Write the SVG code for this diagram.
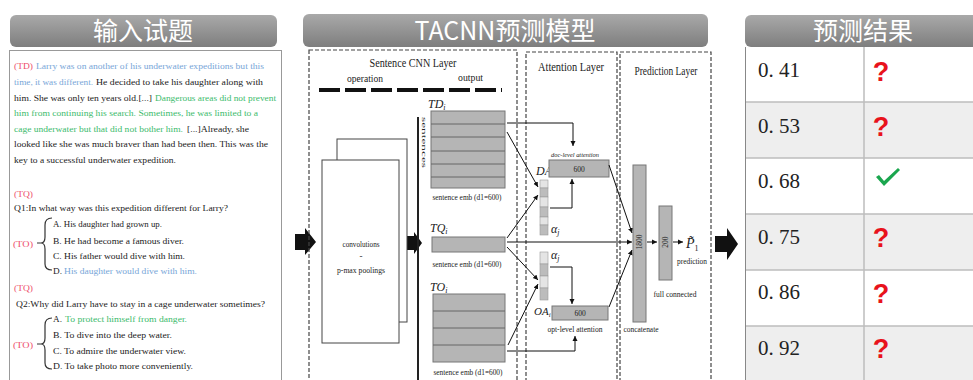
<svg xmlns="http://www.w3.org/2000/svg" width="973" height="380" viewBox="0 0 973 380">
<defs>
<linearGradient id="hdr" x1="0" y1="0" x2="0" y2="1">
<stop offset="0" stop-color="#a9a9a9"/>
<stop offset="1" stop-color="#7e7e7e"/>
</linearGradient>
<marker id="ah" markerWidth="6" markerHeight="6" refX="5" refY="3" orient="auto" markerUnits="userSpaceOnUse">
<path d="M0,0.5 L5,3 L0,5.5 Z" fill="#111"/>
</marker>
<style>
.hdrbar{fill:url(#hdr)}
.hdrtxt{font-family:"Noto Sans CJK SC","Noto Sans",sans-serif;font-size:25px;fill:#fff;text-anchor:middle}
.p{font-family:"Liberation Serif",serif;font-size:9.2px;fill:#222}
.red{fill:#ee4d6a}
.blue{fill:#78a6d8}
.green{fill:#3cbb6c}
.s{font-family:"Liberation Serif",serif;fill:#222}
.it{font-style:italic}
.dash{fill:none;stroke:#444;stroke-width:1.2;stroke-dasharray:4 2}
.emb{fill:#b5b5b5;stroke:#777;stroke-width:1}
.row{stroke:#666;stroke-width:1}
.conn{fill:none;stroke:#111;stroke-width:1;marker-end:url(#ah)}
.blk{fill:#111}
.val{font-family:"Liberation Serif",serif;font-size:21px;fill:#222}
.q{font-family:"Liberation Sans",sans-serif;font-weight:bold;font-size:27px;fill:#e8121c;text-anchor:middle}
.cl{fill:#e4e4e4;stroke:#999;stroke-width:0.6}
.cd{fill:#bcbcbc;stroke:#999;stroke-width:0.6}
</style>
</defs>
<rect width="973" height="380" fill="#fff"/>

<!-- Left panel: input question -->
<g id="input-panel">
<rect class="hdrbar" x="10" y="15" width="267" height="32" rx="6"/>
<text class="hdrtxt" x="143" y="40">输入试题</text>
<rect x="9.5" y="50.5" width="272" height="340" fill="#fff" stroke="#999"/>
<text class="p red" x="14" y="69" textLength="19" lengthAdjust="spacingAndGlyphs">(TD)</text>
<text class="p blue" x="36" y="69" textLength="228" lengthAdjust="spacingAndGlyphs">Larry was on another of his underwater expeditions but this</text>
<text class="p blue" x="14" y="85" textLength="79" lengthAdjust="spacingAndGlyphs">time, it was different.</text>
<text class="p" x="96" y="85" textLength="167" lengthAdjust="spacingAndGlyphs">He decided to take his daughter along with</text>
<text class="p" x="14" y="101" textLength="138" lengthAdjust="spacingAndGlyphs">him. She was only ten years old.[...]</text>
<text class="p green" x="155" y="101" textLength="121" lengthAdjust="spacingAndGlyphs">Dangerous areas did not prevent</text>
<text class="p green" x="14" y="116" textLength="244" lengthAdjust="spacingAndGlyphs">him from continuing his search. Sometimes, he was limited to a</text>
<text class="p green" x="14" y="132" textLength="169" lengthAdjust="spacingAndGlyphs">cage underwater but that did not bother him.</text>
<text class="p" x="187" y="132" textLength="62" lengthAdjust="spacingAndGlyphs">[...]Already, she</text>
<text class="p" x="14" y="147" textLength="254" lengthAdjust="spacingAndGlyphs">looked like she was much braver than had been then. This was the</text>
<text class="p" x="14" y="163" textLength="162" lengthAdjust="spacingAndGlyphs">key to a successful underwater expedition.</text>
<text class="p red" x="14" y="197" textLength="19" lengthAdjust="spacingAndGlyphs">(TQ)</text>
<text class="p" x="14" y="211" textLength="214" lengthAdjust="spacingAndGlyphs">Q1:In what way was this expedition different for Larry?</text>
<text class="p red" x="13" y="247" textLength="20" lengthAdjust="spacingAndGlyphs">(TO)</text>
<path d="M37,243 H43 M52,218 Q45,218 45,225 V237 Q45,243 41,243 Q45,243 45,249 V264 Q45,270 52,270" fill="none" stroke="#333" stroke-width="1.2"/>
<text class="p" x="53" y="227" textLength="109" lengthAdjust="spacingAndGlyphs">A. His daughter had grown up.</text>
<text class="p" x="53" y="244" textLength="131" lengthAdjust="spacingAndGlyphs">B. He had become a famous diver.</text>
<text class="p" x="53" y="259" textLength="132" lengthAdjust="spacingAndGlyphs">C. His father would dive with him.</text>
<text class="p" x="53" y="274">D.</text>
<text class="p blue" x="64" y="274" textLength="133" lengthAdjust="spacingAndGlyphs">His daughter would dive with him.</text>
<text class="p red" x="14" y="291" textLength="19" lengthAdjust="spacingAndGlyphs">(TQ)</text>
<text class="p" x="16" y="307" textLength="249" lengthAdjust="spacingAndGlyphs">Q2:Why did Larry have to stay in a cage underwater sometimes?</text>
<text class="p red" x="13" y="348" textLength="20" lengthAdjust="spacingAndGlyphs">(TO)</text>
<path d="M37,344 H43 M52,318 Q45,318 45,325 V338 Q45,344 41,344 Q45,344 45,350 V363 Q45,369 52,369" fill="none" stroke="#333" stroke-width="1.2"/>
<text class="p" x="53" y="322">A.</text>
<text class="p green" x="65" y="322" textLength="122" lengthAdjust="spacingAndGlyphs">To protect himself from danger.</text>
<text class="p" x="53" y="338" textLength="119" lengthAdjust="spacingAndGlyphs">B. To dive into the deep water.</text>
<text class="p" x="53" y="354" textLength="133" lengthAdjust="spacingAndGlyphs">C. To admire the underwater view.</text>
<text class="p" x="53" y="369" textLength="140" lengthAdjust="spacingAndGlyphs">D. To take photo more conveniently.</text>
</g>

<!-- Middle panel header -->
<g id="model-header">
<rect class="hdrbar" x="303" y="14" width="405" height="33" rx="6"/>
<text class="hdrtxt" x="505" y="40">TACNN预测模型</text>
</g>

<!-- Block arrows -->
<g id="block-arrows">
<polygon class="blk" points="295,234 305,234 305,228 316,242 305,255 305,250 295,250"/>
<polygon class="blk" points="406,236 414,236 414,232 422,243 414,254 414,250 406,250"/>
<polygon class="blk" points="715,236 727,236 727,228 738,244 727,260 727,252 715,252"/>
</g>

<!-- Sentence CNN Layer -->
<g id="sentence-cnn-layer">
<rect class="dash" x="309" y="50" width="208" height="340"/>
<text class="s" x="413" y="67" font-size="13" text-anchor="middle" textLength="87" lengthAdjust="spacingAndGlyphs">Sentence CNN Layer</text>
<text class="s" x="347" y="82" font-size="11" textLength="36" lengthAdjust="spacingAndGlyphs">operation</text>
<text class="s" x="458" y="81" font-size="11" textLength="25" lengthAdjust="spacingAndGlyphs">output</text>
<line x1="319" y1="90" x2="502" y2="90" stroke="#111" stroke-width="4" stroke-dasharray="21 5"/>
<line x1="418" y1="117" x2="418" y2="380" stroke="#222" stroke-width="2"/>
<text class="s" font-size="7" transform="translate(422,117) rotate(90)" textLength="51" lengthAdjust="spacingAndGlyphs">sentences</text>
</g>

<g id="conv">
<rect x="337" y="139" width="70" height="183" fill="#fff" stroke="#444"/>
<rect x="322" y="160" width="77" height="183" fill="#fff" stroke="#444"/>
<text class="s" x="361" y="247" font-size="9" text-anchor="middle" textLength="37" lengthAdjust="spacingAndGlyphs">convolutions</text>
<text class="s" x="361" y="259" font-size="9" text-anchor="middle">-</text>
<text class="s" x="361" y="273" font-size="9" text-anchor="middle" textLength="48" lengthAdjust="spacingAndGlyphs">p-max poolings</text>
</g>

<g id="td-emb">
<text class="s it" x="428" y="108" font-size="12">TD<tspan font-size="8" dy="2">i</tspan></text>
<rect class="emb" x="431" y="111" width="74" height="77"/>
<path class="row" d="M431,124 H505 M431,137 H505 M431,151 H505 M431,164 H505 M431,177 H505"/>
<text class="s" x="467" y="200" font-size="8.5" text-anchor="middle" textLength="69" lengthAdjust="spacingAndGlyphs">sentence emb (d1=600)</text>
</g>

<g id="tq-emb">
<text class="s it" x="430" y="232" font-size="12">TQ<tspan font-size="8" dy="2">i</tspan></text>
<rect class="emb" x="432" y="237" width="73" height="15"/>
<text class="s" x="467" y="267" font-size="8.5" text-anchor="middle" textLength="69" lengthAdjust="spacingAndGlyphs">sentence emb (d1=600)</text>
</g>

<g id="to-emb">
<text class="s it" x="430" y="291" font-size="12">TO<tspan font-size="8" dy="2">i</tspan></text>
<rect class="emb" x="433" y="294" width="72" height="68"/>
<path class="row" d="M433,311 H505 M433,328 H505 M433,345 H505"/>
<text class="s" x="468" y="375" font-size="8.5" text-anchor="middle" textLength="69" lengthAdjust="spacingAndGlyphs">sentence emb (d1=600)</text>
</g>

<!-- Attention Layer -->
<g id="attention-layer">
<rect class="dash" x="526" y="52" width="91" height="338"/>
<text class="s" x="571" y="71" font-size="12" text-anchor="middle" textLength="66" lengthAdjust="spacingAndGlyphs">Attention Layer</text>
</g>

<g id="doc-attention">
<text class="s it" x="575" y="157" font-size="7" text-anchor="middle" textLength="48" lengthAdjust="spacingAndGlyphs">doc-level attention</text>
<text class="s it" x="536" y="175" font-size="12">DA<tspan font-size="8" dy="2">i</tspan></text>
<rect class="emb" x="549" y="160" width="60" height="17"/>
<text class="s" x="579" y="172" font-size="7.5" text-anchor="middle">600</text>
<rect class="cl" x="540" y="180" width="8" height="8"/>
<rect class="cd" x="540" y="188" width="8" height="9"/>
<rect class="cl" x="540" y="197" width="8" height="10"/>
<rect class="cd" x="540" y="207" width="8" height="10"/>
<rect class="cl" x="540" y="217" width="8" height="8"/>
<rect class="cd" x="540" y="225" width="8" height="10"/>
<text class="s it" x="551" y="233" font-size="12">α<tspan font-size="8" dy="2">j</tspan></text>
</g>

<g id="opt-attention">
<text class="s it" x="551" y="259" font-size="12">α<tspan font-size="8" dy="2">j</tspan></text>
<rect class="cl" x="540" y="252" width="8" height="12"/>
<rect class="cd" x="540" y="264" width="8" height="12"/>
<rect class="cl" x="540" y="276" width="8" height="12"/>
<rect class="cd" x="540" y="288" width="8" height="12"/>
<text class="s it" x="534" y="315" font-size="11">OA<tspan font-size="7" dy="2">i</tspan></text>
<rect class="emb" x="552" y="306" width="56" height="14"/>
<text class="s" x="580" y="316" font-size="7.5" text-anchor="middle">600</text>
<text class="s" x="575" y="332" font-size="8" text-anchor="middle" textLength="55" lengthAdjust="spacingAndGlyphs">opt-level attention</text>
</g>

<!-- Prediction Layer -->
<g id="prediction-layer">
<rect class="dash" x="620" y="52" width="91" height="338"/>
<text class="s" x="666" y="75" font-size="12" text-anchor="middle" textLength="63" lengthAdjust="spacingAndGlyphs">Prediction Layer</text>
</g>

<g id="concatenate">
<rect class="emb" x="633" y="165" width="13" height="157"/>
<text class="s" font-size="7.5" text-anchor="middle" transform="translate(642,242) rotate(-90)">1800</text>
<text class="s" x="641" y="332" font-size="8" text-anchor="middle" textLength="35" lengthAdjust="spacingAndGlyphs">concatenate</text>
</g>

<g id="full-connected">
<rect class="emb" x="659" y="206" width="13" height="74"/>
<text class="s" font-size="7.5" text-anchor="middle" transform="translate(668,242) rotate(-90)">200</text>
<text class="s" x="675" y="297" font-size="8.5" text-anchor="middle" textLength="43" lengthAdjust="spacingAndGlyphs">full connected</text>
</g>

<g id="prediction">
<text class="s it" x="686" y="248" font-size="14">P̃<tspan font-size="8" dy="3" font-style="normal">1</tspan></text>
<text class="s" x="677" y="264" font-size="8.5" textLength="30" lengthAdjust="spacingAndGlyphs">prediction</text>
</g>

<!-- Connectors -->
<g id="connectors">
<path class="conn" d="M507,123 H573 V146"/>
<path class="conn" d="M507,132 L538,187"/>
<path class="conn" d="M507,238 L538,195"/>
<path class="conn" d="M550,208 H572 V179"/>
<path class="conn" d="M507,242 H632"/>
<path class="conn" d="M507,247 L538,280"/>
<path class="conn" d="M508,345 L538,284"/>
<path class="conn" d="M507,351 H575 V336"/>
<path class="conn" d="M550,267 H572 V304"/>
<path class="conn" d="M609,165 L632,233"/>
<path class="conn" d="M609,307 L632,250"/>
<path class="conn" d="M647,242 H657"/>
<path class="conn" d="M673,242 H683"/>
</g>

<!-- Right panel: prediction results -->
<g id="results-panel">
<rect class="hdrbar" x="745" y="15" width="240" height="32" rx="6"/>
<text class="hdrtxt" x="863" y="40">预测结果</text>
<rect x="745" y="47" width="240" height="55" fill="#fff"/>
<rect x="745" y="102" width="240" height="56" fill="#eeeeee"/>
<rect x="745" y="158" width="240" height="56" fill="#fff"/>
<rect x="745" y="214" width="240" height="56" fill="#eeeeee"/>
<rect x="745" y="270" width="240" height="56" fill="#fff"/>
<rect x="745" y="326" width="240" height="60" fill="#eeeeee"/>
<path d="M745,102 H973 M745,158 H973 M745,214 H973 M745,270 H973 M745,326 H973" stroke="#bdbdbd" stroke-width="1.5"/>
<line x1="864" y1="47" x2="864" y2="380" stroke="#bdbdbd" stroke-width="1.5"/>
<line x1="745.5" y1="47" x2="745.5" y2="380" stroke="#888" stroke-width="1"/>
</g>
<g id="result-rows">
<text class="val" x="758" y="77">0. 41</text>
<text class="q" x="881" y="81">?</text>
<text class="val" x="758" y="133">0. 53</text>
<text class="q" x="881" y="136">?</text>
<text class="val" x="758" y="188">0. 68</text>
<path d="M876,177 L879,175 L884,181 L898,168 L900,170 L884,186 Z" fill="#1aa64e"/>
<text class="val" x="758" y="244">0. 75</text>
<text class="q" x="881" y="247">?</text>
<text class="val" x="758" y="299">0. 86</text>
<text class="q" x="881" y="303">?</text>
<text class="val" x="758" y="355">0. 92</text>
<text class="q" x="881" y="358">?</text>
</g>
</svg>
